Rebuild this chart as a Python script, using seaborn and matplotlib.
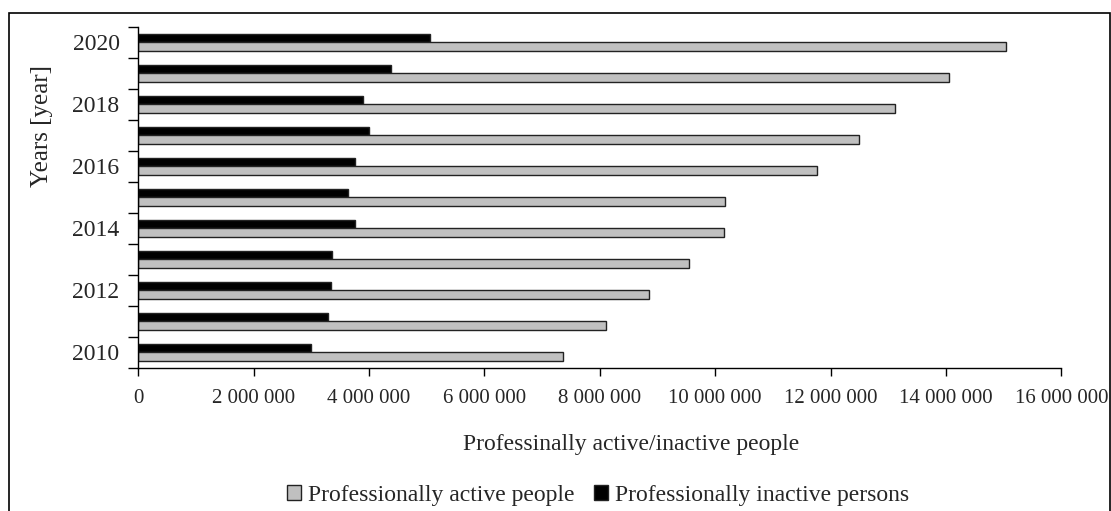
import matplotlib
matplotlib.use("Agg")
import matplotlib.pyplot as plt
from matplotlib.patches import Patch, Rectangle
from matplotlib.ticker import FuncFormatter, FixedLocator
import seaborn as sns
import pandas as pd

years = ["2020", "2019", "2018", "2017", "2016", "2015", "2014", "2013", "2012", "2011", "2010"]
active = [15040000, 14050000, 13120000, 12490000, 11760000, 10170000, 10160000, 9550000, 8850000, 8110000, 7370000]
inactive = [5050000, 4380000, 3890000, 4000000, 3760000, 3640000, 3760000, 3360000, 3340000, 3280000, 2990000]
label_active = "Professionally active people"
label_inactive = "Professionally inactive persons"
x_ticks = [0, 2000000, 4000000, 6000000, 8000000, 10000000, 12000000, 14000000, 16000000]
y_labels_shown = ["2020", "2018", "2016", "2014", "2012", "2010"]

sns.set_style("white")
plt.rcParams["font.family"] = ["Liberation Serif", "DejaVu Serif"]

df = pd.DataFrame({
    "year": years * 2,
    "value": inactive + active,
    "series": [label_inactive] * len(years) + [label_active] * len(years),
})

W, H = 1111, 511
fig = plt.figure(figsize=(W / 100, H / 100), dpi=100)
ax_l, ax_r, ax_t, ax_b = 138.3, 1061.3, 26.7, 367.7
ax = fig.add_axes([ax_l / W, 1 - ax_b / H, (ax_r - ax_l) / W, (ax_b - ax_t) / H])

sns.barplot(data=df, y="year", x="value", hue="series", order=years,
            hue_order=[label_inactive, label_active],
            palette={label_inactive: "#000000", label_active: "#C0C0C0"},
            orient="h", width=0.55, edgecolor="#222222", linewidth=1.0,
            legend=False, ax=ax)

ax.set_xlim(0, 16000000)
ax.set_ylim(len(years) - 0.5, -0.5)
ax.set_xticks(x_ticks)
ax.xaxis.set_major_formatter(FuncFormatter(lambda v, p: f"{int(v):,}".replace(",", " ")))

# y: tick marks at category boundaries, labels at centres of every other year
ax.yaxis.set_major_locator(FixedLocator([i - 0.5 for i in range(len(years) + 1)]))
ax.yaxis.set_minor_locator(FixedLocator([years.index(y) for y in y_labels_shown]))
ax.yaxis.set_major_formatter(FuncFormatter(lambda v, p: ""))
ax.yaxis.set_minor_formatter(FuncFormatter(lambda v, p: years[int(round(v))]))
ax.tick_params(axis="y", which="major", direction="out", length=7, width=1, color="black", left=True)
ax.tick_params(axis="y", which="minor", length=0, labelsize=17, pad=13.5)
ax.tick_params(axis="x", which="major", direction="out", length=6, width=1, color="black",
               bottom=True, labelsize=15, pad=9)

for s in ["top", "right"]:
    ax.spines[s].set_visible(False)
for s in ["left", "bottom"]:
    ax.spines[s].set_color("black")
    ax.spines[s].set_linewidth(1.0)

ax.set_xlabel("Professinally active/inactive people", fontsize=17)
ax.xaxis.set_label_coords((631 - ax_l) / (ax_r - ax_l), (ax_b - 434) / (ax_b - ax_t))
ax.set_ylabel("Years [year]", fontsize=18)
ax.yaxis.set_label_coords((53 - ax_l) / (ax_r - ax_l), (ax_b - 126) / (ax_b - ax_t))

handles = [Patch(facecolor="#C0C0C0", edgecolor="#222222", label=label_active),
           Patch(facecolor="#000000", edgecolor="#222222", label=label_inactive)]
fig.legend(handles=handles, loc="center", bbox_to_anchor=(598 / W, 1 - 495 / H),
           ncol=2, frameon=False, fontsize=17, handlelength=0.6, handleheight=0.6,
           handletextpad=0.3, columnspacing=0.8, borderpad=0)

fig.patches.append(Rectangle((9 / W, -0.05), (1110 - 9) / W, (1 - 13 / H) + 0.05,
                             fill=False, edgecolor="black", linewidth=1.2,
                             transform=fig.transFigure, figure=fig))

fig.savefig("out.png", dpi=100)
